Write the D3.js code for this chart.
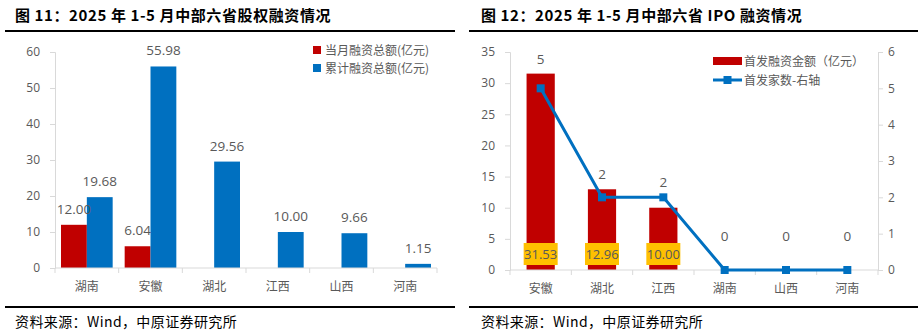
<!DOCTYPE html>
<html>
<head>
<meta charset="utf-8">
<script src="https://cdn.jsdelivr.net/npm/d3@7"></script>
<style>
  body { margin: 0; background: #fff; }
  svg { display: block; }
  text { font-family: "Open Sans", "Noto Sans CJK SC", sans-serif; }
  .cjk { font-family: "Noto Sans CJK SC", sans-serif; }
</style>
</head>
<body>
<svg id="chart" width="924" height="335"></svg>
<script>
// chart 11 - equity financing
const provinces11 = ["湖南", "安徽", "湖北", "江西", "山西", "河南"];
const monthAmount = [12.00, 6.04, null, null, null, null];
const totalAmount = [19.68, 55.98, 29.56, 10.00, 9.66, 1.15];
const yTicks11 = [0, 10, 20, 30, 40, 50, 60];

// chart 12 - IPO
const provinces12 = ["安徽", "湖北", "江西", "湖南", "山西", "河南"];
const ipoAmount = [31.53, 12.96, 10.00, 0, 0, 0];
const ipoCount = [5, 2, 2, 0, 0, 0];
const yTicks12 = [0, 5, 10, 15, 20, 25, 30, 35];
const yTicks12r = [0, 1, 2, 3, 4, 5, 6];

const red = "#C00000", blue = "#0070C0", axisGrey = "#d9d9d9", txt = "#595959";

const svg = d3.select("#chart");

function frame(x0, x1, title, tx) {
  svg.append("text").attr("class", "cjk")
    .attr("x", tx).attr("y", 21)
    .attr("font-size", 15).attr("font-weight", "bold").attr("fill", "#000")
    .attr("letter-spacing", 0.6)
    .text(title);
  svg.append("line").attr("x1", x0).attr("x2", x1).attr("y1", 31).attr("y2", 31)
    .attr("stroke", "#000").attr("stroke-width", 2);
  svg.append("line").attr("x1", x0).attr("x2", x1).attr("y1", 307).attr("y2", 307)
    .attr("stroke", "#000").attr("stroke-width", 2);
  svg.append("text").attr("class", "cjk")
    .attr("x", tx).attr("y", 327)
    .attr("font-size", 14).attr("fill", "#000").attr("letter-spacing", 0.4)
    .text("资料来源：Wind，中原证券研究所");
}

function styleAxis(g) {
  g.selectAll(".domain").attr("stroke", axisGrey);
  g.selectAll(".tick line").attr("stroke", axisGrey);
  g.selectAll(".tick text").attr("fill", txt).attr("font-size", 12);
}

function catAxis(x, y0) {
  const g = svg.append("g").attr("transform", `translate(0,${y0})`);
  g.append("line").attr("x1", x.range()[0]).attr("x2", x.range()[1])
    .attr("stroke", axisGrey);
  const step = x.step();
  g.selectAll(".tk").data(d3.range(x.domain().length + 1)).join("line")
    .attr("x1", i => x.range()[0] + i * step).attr("x2", i => x.range()[0] + i * step)
    .attr("y1", 0).attr("y2", 5).attr("stroke", axisGrey);
  g.selectAll(".lb").data(x.domain()).join("text").attr("class", "cjk")
    .attr("x", d => x(d) + x.bandwidth() / 2).attr("y", 23)
    .attr("text-anchor", "middle").attr("font-size", 12).attr("fill", txt)
    .text(d => d);
}

// ---------- chart 11 ----------
frame(5, 455, "图 11：2025 年 1-5 月中部六省股权融资情况", 15);
{
  const x = d3.scaleBand(provinces11, [55, 437]).padding(0);
  const inner = d3.scaleBand(["m", "t"], [6, x.bandwidth() - 6]).padding(0);
  const y = d3.scaleLinear([0, 60], [268, 52]);

  svg.append("g").attr("transform", "translate(55,0)")
    .call(d3.axisLeft(y).tickValues(yTicks11).tickSize(5).tickPadding(10))
    .call(styleAxis);

  const rows = provinces11.map((p, i) => ({ p, m: monthAmount[i], t: totalAmount[i] }));
  const gb = svg.append("g");
  gb.selectAll(".m").data(rows.filter(d => d.m != null)).join("rect")
    .attr("x", d => x(d.p) + inner("m")).attr("width", inner.bandwidth())
    .attr("y", d => y(d.m)).attr("height", d => y(0) - y(d.m)).attr("fill", red);
  gb.selectAll(".t").data(rows).join("rect")
    .attr("x", d => x(d.p) + inner("t")).attr("width", inner.bandwidth())
    .attr("y", d => y(d.t)).attr("height", d => y(0) - y(d.t)).attr("fill", blue);

  gb.selectAll(".ml").data(rows.filter(d => d.m != null)).join("text")
    .attr("x", d => x(d.p) + inner("m") + inner.bandwidth() / 2).attr("y", d => y(d.m) - 11)
    .attr("text-anchor", "middle").attr("font-size", 13.5).attr("fill", txt)
    .text(d => d.m.toFixed(2));
  gb.selectAll(".tl").data(rows).join("text")
    .attr("x", d => x(d.p) + inner("t") + inner.bandwidth() / 2).attr("y", d => y(d.t) - 11)
    .attr("text-anchor", "middle").attr("font-size", 13.5).attr("fill", txt)
    .text(d => d.t.toFixed(2));

  catAxis(x, 268);

  // legend
  const lg = svg.append("g").attr("transform", "translate(313,46)");
  [["当月融资总额(亿元)", red], ["累计融资总额(亿元)", blue]].forEach(([t, c], i) => {
    lg.append("rect").attr("x", 0).attr("y", i * 18).attr("width", 8).attr("height", 8).attr("fill", c);
    lg.append("text").attr("class", "cjk").attr("x", 12).attr("y", i * 18 + 8.5)
      .attr("font-size", 12).attr("fill", txt).text(t);
  });
}

// ---------- chart 12 ----------
frame(469, 918, "图 12：2025 年 1-5 月中部六省 IPO 融资情况", 481);
{
  const x = d3.scaleBand(provinces12, [510, 878]).paddingInner(0).paddingOuter(0);
  const y = d3.scaleLinear([0, 35], [270, 52]);
  const y2 = d3.scaleLinear([0, 6], [270, 52]);
  const bw = x.bandwidth() * 0.46;

  svg.append("g").attr("transform", "translate(510,0)")
    .call(d3.axisLeft(y).tickValues(yTicks12).tickSize(5).tickPadding(10))
    .call(styleAxis);
  svg.append("g").attr("transform", "translate(878,0)")
    .call(d3.axisRight(y2).tickValues(yTicks12r).tickFormat(d3.format("d")).tickSize(5).tickPadding(5))
    .call(styleAxis);

  const rows = provinces12.map((p, i) => ({ p, a: ipoAmount[i], c: ipoCount[i] }));
  const cx = d => x(d.p) + x.bandwidth() / 2;

  svg.append("g").selectAll("rect").data(rows.filter(d => d.a > 0)).join("rect")
    .attr("x", d => cx(d) - bw / 2).attr("width", bw)
    .attr("y", d => y(d.a)).attr("height", d => y(0) - y(d.a)).attr("fill", red);

  catAxis(x, 270);

  // amount labels in yellow boxes
  const bl = svg.append("g").selectAll("g").data(rows.filter(d => d.a > 0)).join("g")
    .attr("transform", d => `translate(${cx(d)},${y(0) - 16})`);
  bl.append("rect").attr("x", -17).attr("y", -11).attr("width", 34).attr("height", 22).attr("fill", "#FFC000");
  bl.append("text").attr("text-anchor", "middle").attr("y", 4.5)
    .attr("font-size", 13).attr("fill", txt).text(d => d.a.toFixed(2));

  // count line
  svg.append("path").datum(rows)
    .attr("d", d3.line().x(cx).y(d => y2(d.c)))
    .attr("fill", "none").attr("stroke", blue).attr("stroke-width", 3);
  svg.append("g").selectAll("rect").data(rows).join("rect")
    .attr("x", d => cx(d) - 4).attr("y", d => y2(d.c) - 4)
    .attr("width", 8).attr("height", 8).attr("fill", blue);

  svg.append("g").selectAll("text").data(rows).join("text")
    .attr("x", cx)
    .attr("y", d => Math.min(y(d.a), y2(d.c), y(3)) - 10)
    .attr("text-anchor", "middle").attr("font-size", 13.5).attr("fill", txt)
    .text(d => d.c);

  // legend
  const lg = svg.append("g").attr("transform", "translate(713,61)");
  lg.append("rect").attr("x", 0).attr("y", -4).attr("width", 29).attr("height", 8).attr("fill", red);
  lg.append("text").attr("class", "cjk").attr("x", 31).attr("y", 4.5)
    .attr("font-size", 12).attr("fill", txt).text("首发融资金额（亿元）");
  lg.append("line").attr("x1", 0).attr("x2", 29).attr("y1", 19).attr("y2", 19)
    .attr("stroke", blue).attr("stroke-width", 3);
  lg.append("rect").attr("x", 10.5).attr("y", 15).attr("width", 8).attr("height", 8).attr("fill", blue);
  lg.append("text").attr("class", "cjk").attr("x", 31).attr("y", 23.5)
    .attr("font-size", 12).attr("fill", txt).text("首发家数-右轴");
}
</script>
</body>
</html>
